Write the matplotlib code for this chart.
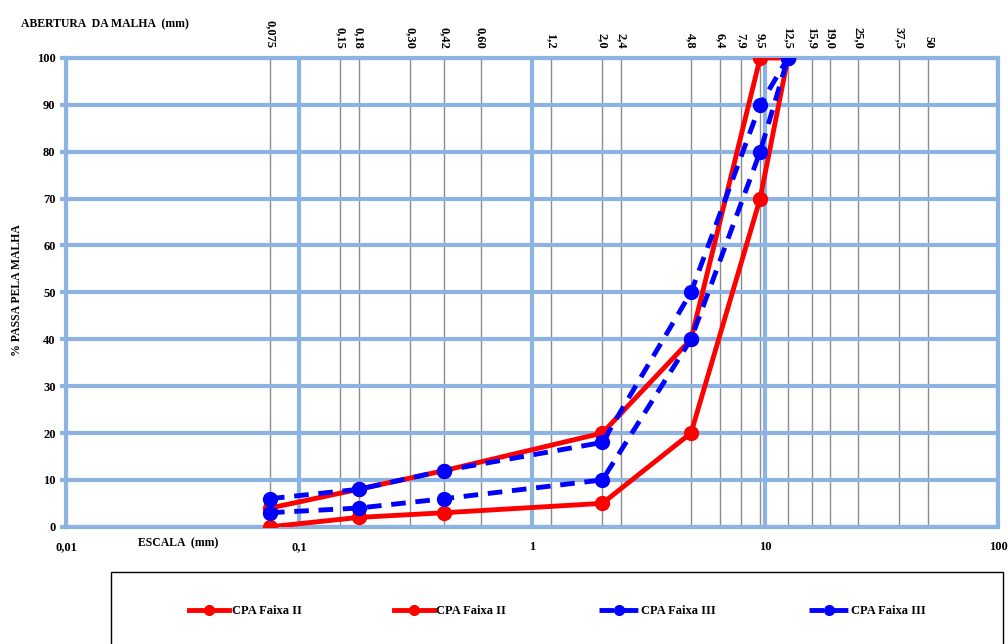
import matplotlib.pyplot as plt
from matplotlib.patches import Rectangle
import numpy as np

plt.rcParams['font.family'] = ['Liberation Serif', 'DejaVu Serif']
plt.rcParams['font.weight'] = 'bold'

# sieve openings (mm) and labels
sieves = [0.075, 0.15, 0.18, 0.30, 0.42, 0.60, 1.2, 2.0, 2.4, 4.8, 6.4, 7.9,
          9.5, 12.5, 15.9, 19.0, 25.0, 37.5, 50]
sieve_labels = ["0,075", "0,15", "0,18", "0,30", "0,42", "0,60", "1,2", "2,0", "2,4",
                "4,8", "6,4", "7,9", "9,5", "12,5", "15,9", "19,0", "25,0", "37,5", "50"]

# gradation limits
x_pts = [0.075, 0.18, 0.42, 2.0, 4.8, 9.5, 12.5]
faixa2_inf = [0, 2, 3, 5, 20, 70, 100]
faixa2_sup = [4, 8, 12, 20, 40, 100, 100]
faixa3_inf = [3, 4, 6, 10, 40, 80, 100]
faixa3_sup = [6, 8, 12, 18, 50, 90, 100]

blue_grid = "#8DB3E2"

fig = plt.figure(figsize=(10.08, 6.44), dpi=100)
ax = fig.add_axes([0.0655, 0.182, 0.925, 0.728])

ax.set_xscale('log')
ax.set_xlim(0.01, 100)
ax.set_ylim(0, 100)

for s in sieves:
    ax.axvline(s, color="#8C8C8C", lw=1, zorder=1)
    ax.plot([s], [0], marker='_', color="#8C8C8C", ms=6, zorder=1, clip_on=False)

ax.grid(True, which='major', color=blue_grid, lw=3, zorder=0)
ax.set_yticks(np.arange(0, 101, 10))
ax.set_xticks([0.01, 0.1, 1, 10, 100])
ax.set_xticklabels(["0,01", "0,1", "1", "10", "100"])
ax.minorticks_off()
ax.tick_params(axis='both', colors=blue_grid, width=3, length=4, labelcolor='black',
               labelsize=9)
ax.tick_params(axis='x', length=0, pad=10)
for sp in ax.spines.values():
    sp.set_color(blue_grid)
    sp.set_linewidth(3)

ax.plot(x_pts, faixa2_inf, color='red', lw=3.5, marker='o', ms=10, label="CPA Faixa II", zorder=3)
ax.plot(x_pts, faixa2_sup, color='red', lw=3.5, marker='o', ms=10, label="CPA Faixa II", zorder=3)
ax.plot(x_pts, faixa3_inf, color='blue', lw=3.5, ls=(0, (3, 2)), marker='o', ms=10,
        label="CPA Faixa III", zorder=4)
ax.plot(x_pts, faixa3_sup, color='blue', lw=3.5, ls=(0, (3, 2)), marker='o', ms=10,
        label="CPA Faixa III", zorder=4)

for s, lab in zip(sieves, sieve_labels):
    ax.text(s, 1.02, lab, transform=ax.get_xaxis_transform(), rotation=-90,
            ha='center', va='bottom', fontsize=9, fontweight='bold')

fig.text(0.021, 0.963, "ABERTURA  DA MALHA  (mm)", fontsize=8.5, fontweight='bold',
         ha='left', va='center')
fig.text(0.137, 0.157, "ESCALA  (mm)", fontsize=8.5, fontweight='bold', ha='left', va='center')
fig.text(0.017, 0.55, "% PASSA PELA MALHA", fontsize=8.5, fontweight='bold', rotation=90,
         ha='center', va='center')

fig.patches.append(Rectangle((0.11, -0.01), 0.885, 0.122, transform=fig.transFigure,
                             fill=False, edgecolor='black', lw=1))
fig.legend(loc='center', bbox_to_anchor=(0.553, 0.051), ncol=4, frameon=False,
           fontsize=9, handlelength=3.2, columnspacing=7.4, handletextpad=0.2,
           markerscale=0.7)

fig.savefig('out.png', dpi=100)
